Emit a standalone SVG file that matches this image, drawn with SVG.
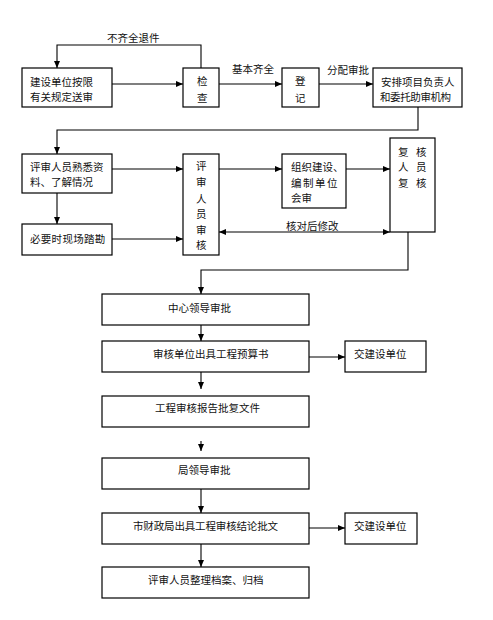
<svg xmlns="http://www.w3.org/2000/svg" width="493" height="620" viewBox="0 0 493 620">
<style>
.b{fill:#fff;stroke:#000;stroke-width:1.2}
.c{fill:none;stroke:#000;stroke-width:1.1}
text{font-family:"Noto Sans CJK SC","Noto Sans CJK JP",sans-serif;font-size:10.5px;fill:#111;dominant-baseline:central}
</style>
<defs>
<marker id="ah" markerUnits="userSpaceOnUse" markerWidth="7" markerHeight="7" refX="7" refY="3.5" orient="auto-start-reverse">
<path d="M0,0.5 L7,3.5 L0,6.5 z" fill="#000"/>
</marker>
</defs>
<rect width="493" height="620" fill="#fff"/>
<g id="connectors">
<path class="c" d="M201,68 V45 H57 V68" marker-end="url(#ah)"/>
<path class="c" d="M112,84 H183" marker-end="url(#ah)"/>
<path class="c" d="M219,84 H282" marker-end="url(#ah)"/>
<path class="c" d="M319,84 H373" marker-end="url(#ah)"/>
<path class="c" d="M418,107 V130 H57 V154" marker-end="url(#ah)"/>
<path class="c" d="M112,169 H183" marker-end="url(#ah)"/>
<path class="c" d="M57,193 V224" marker-end="url(#ah)"/>
<path class="c" d="M112,239 H183" marker-end="url(#ah)"/>
<path class="c" d="M219,169 H282" marker-end="url(#ah)"/>
<path class="c" d="M346,169 H390" marker-end="url(#ah)"/>
<path class="c" d="M219,232 H390" marker-start="url(#ah)" marker-end="url(#ah)"/>
<path class="c" d="M408,232 V270 H201 V294" marker-end="url(#ah)"/>
<path class="c" d="M201,325 V341" marker-end="url(#ah)"/>
<path class="c" d="M309,357 H345" marker-end="url(#ah)"/>
<path class="c" d="M201,372 V389" marker-end="url(#ah)"/>
<path class="c" d="M201,441 V451" marker-end="url(#ah)"/>
<path class="c" d="M201,489 V513" marker-end="url(#ah)"/>
<path class="c" d="M309,528 H345" marker-end="url(#ah)"/>
<path class="c" d="M201,544 V567" marker-end="url(#ah)"/>
<text x="107" y="37">不齐全退件</text>
<text x="232" y="68">基本齐全</text>
<text x="327" y="69">分配审批</text>
<text x="286" y="225">核对后修改</text>
</g>
<g id="n1"><rect class="b" x="22" y="68" width="90" height="39"/><text x="30" y="81">建设单位按限</text><text x="30" y="96">有关规定送审</text></g>
<g id="n2"><rect class="b" x="183" y="68" width="36" height="39"/><text x="197" y="80">检</text><text x="197" y="97">查</text></g>
<g id="n3"><rect class="b" x="282" y="68" width="37" height="39"/><text x="295" y="80">登</text><text x="295" y="97">记</text></g>
<g id="n4"><rect class="b" x="373" y="68" width="89" height="39"/><text x="381" y="81">安排项目负责人</text><text x="380" y="96" letter-spacing="-0.4">和委托助审机构</text></g>
<g id="n5"><rect class="b" x="22" y="154" width="90" height="39"/><text x="30" y="166">评审人员熟悉资</text><text x="30" y="181">料、了解情况</text></g>
<g id="n6"><rect class="b" x="22" y="224" width="90" height="31"/><text x="30" y="238" letter-spacing="0.3">必要时现场踏勘</text></g>
<g id="n7"><rect class="b" x="183" y="154" width="36" height="101"/>
<text x="196" y="165">评</text><text x="196" y="181">审</text><text x="196" y="198">人</text><text x="196" y="213">员</text><text x="196" y="229">审</text><text x="196" y="244">核</text></g>
<g id="n8"><rect class="b" x="282" y="154" width="64" height="54"/><text x="291" y="166">组织建设、</text><text x="291" y="182" letter-spacing="1.5">编制单位</text><text x="291" y="197">会审</text></g>
<g id="n9"><rect class="b" x="390" y="138" width="45" height="94"/>
<text x="398" y="151">复</text><text x="416" y="151">核</text><text x="398" y="166">人</text><text x="416" y="166">员</text><text x="398" y="182">复</text><text x="416" y="182">核</text></g>
<g id="n10"><rect class="b" x="102" y="294" width="207" height="31"/><text x="168" y="307">中心领导审批</text></g>
<g id="n11"><rect class="b" x="102" y="341" width="207" height="31"/><text x="153" y="353">审核单位出具工程预算书</text></g>
<g id="n12"><rect class="b" x="345" y="341" width="81" height="31"/><text x="354" y="353">交建设单位</text></g>
<g id="n13"><rect class="b" x="102" y="396" width="207" height="31"/><text x="155" y="407">工程审核报告批复文件</text></g>
<g id="n14"><rect class="b" x="102" y="458" width="207" height="31"/><text x="178" y="469">局领导审批</text></g>
<g id="n15"><rect class="b" x="102" y="513" width="207" height="31"/><text x="133" y="525" letter-spacing="-0.15">市财政局出具工程审核结论批文</text></g>
<g id="n16"><rect class="b" x="345" y="513" width="72" height="31"/><text x="354" y="525">交建设单位</text></g>
<g id="n17"><rect class="b" x="102" y="567" width="207" height="31"/><text x="148" y="579">评审人员整理档案、归档</text></g>
</svg>
